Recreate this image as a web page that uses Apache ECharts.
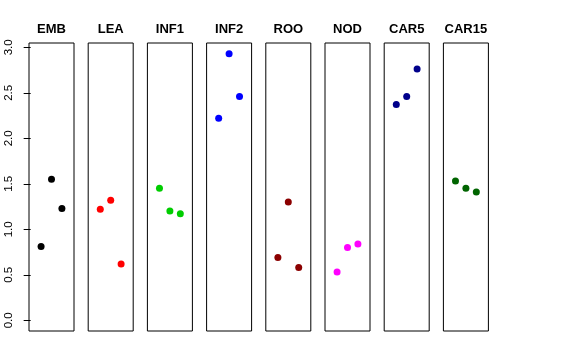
<!DOCTYPE html>
<html><head><meta charset="utf-8">
<script src="https://cdn.jsdelivr.net/npm/echarts@6/dist/echarts.min.js"></script>
<style>html,body{margin:0;padding:0;background:#fff}#c{width:576px;height:360px}</style>
</head><body><div id="c"></div>
<script>
const panels = ['EMB','LEA','INF1','INF2','ROO','NOD','CAR5','CAR15'];
const xPos = [1, 2, 3];
const vEMB   = [0.81, 1.55, 1.23];
const vLEA   = [1.22, 1.32, 0.62];
const vINF1  = [1.45, 1.20, 1.17];
const vINF2  = [2.22, 2.93, 2.46];
const vROO   = [0.69, 1.30, 0.58];
const vNOD   = [0.53, 0.80, 0.84];
const vCAR5  = [2.37, 2.46, 2.76];
const vCAR15 = [1.53, 1.45, 1.41];
const values = [vEMB, vLEA, vINF1, vINF2, vROO, vNOD, vCAR5, vCAR15];
const colors = ['#000000','#FF0000','#00CD00','#0000FF','#8B0000','#FF00FF','#00008B','#006400'];
const yTicks = [0, 0.5, 1, 1.5, 2, 2.5, 3];
const yTickLabels = ['0.0','0.5','1.0','1.5','2.0','2.5','3.0'];

const chart = echarts.init(document.getElementById('c'), null, {renderer:'canvas'});
const grids = [], xAxes = [], yAxes = [], series = [], titles = [];
const step = 59.2, left0 = 29, w = 45;
panels.forEach((p, i) => {
  const l = left0 + step * i;
  grids.push({left: l, top: 43, width: w, height: 288, show: true, borderColor: '#000', borderWidth: 1, backgroundColor: 'transparent'});
  xAxes.push({type: 'value', gridIndex: i, min: -0.16, max: 4.16, show: false});
  yAxes.push({
    type: 'value', gridIndex: i, min: -0.117, max: 3.047,
    show: i === 0,
    splitLine: {show: false},
    axisLine: {show: false},
    axisTick: {show: true, length: 7, customValues: yTicks, lineStyle: {color: '#000', width: 1}},
    axisLabel: {
      show: true, customValues: yTicks, rotate: 90, margin: 14,
      fontFamily: 'Liberation Sans', fontSize: 11.5, color: '#000',
      formatter: v => { const k = yTicks.findIndex(t => Math.abs(t - v) < 1e-6); return k >= 0 ? yTickLabels[k] : ''; }
    }
  });
  series.push({
    type: 'scatter', xAxisIndex: i, yAxisIndex: i,
    data: xPos.map((x, j) => [x, values[i][j]]),
    symbol: 'circle', symbolSize: 7,
    itemStyle: {color: colors[i], opacity: 1}, silent: true
  });
  titles.push({
    type: 'text', x: l + w / 2, y: 29.5, silent: true,
    style: {text: p, align: 'center', verticalAlign: 'middle',
      fontFamily: 'Liberation Sans', fontWeight: 'bold', fontSize: 13, fill: '#000'}
  });
});
chart.setOption({
  animation: false, backgroundColor: '#fff',
  graphic: titles, grid: grids, xAxis: xAxes, yAxis: yAxes, series: series
});
</script></body></html>
